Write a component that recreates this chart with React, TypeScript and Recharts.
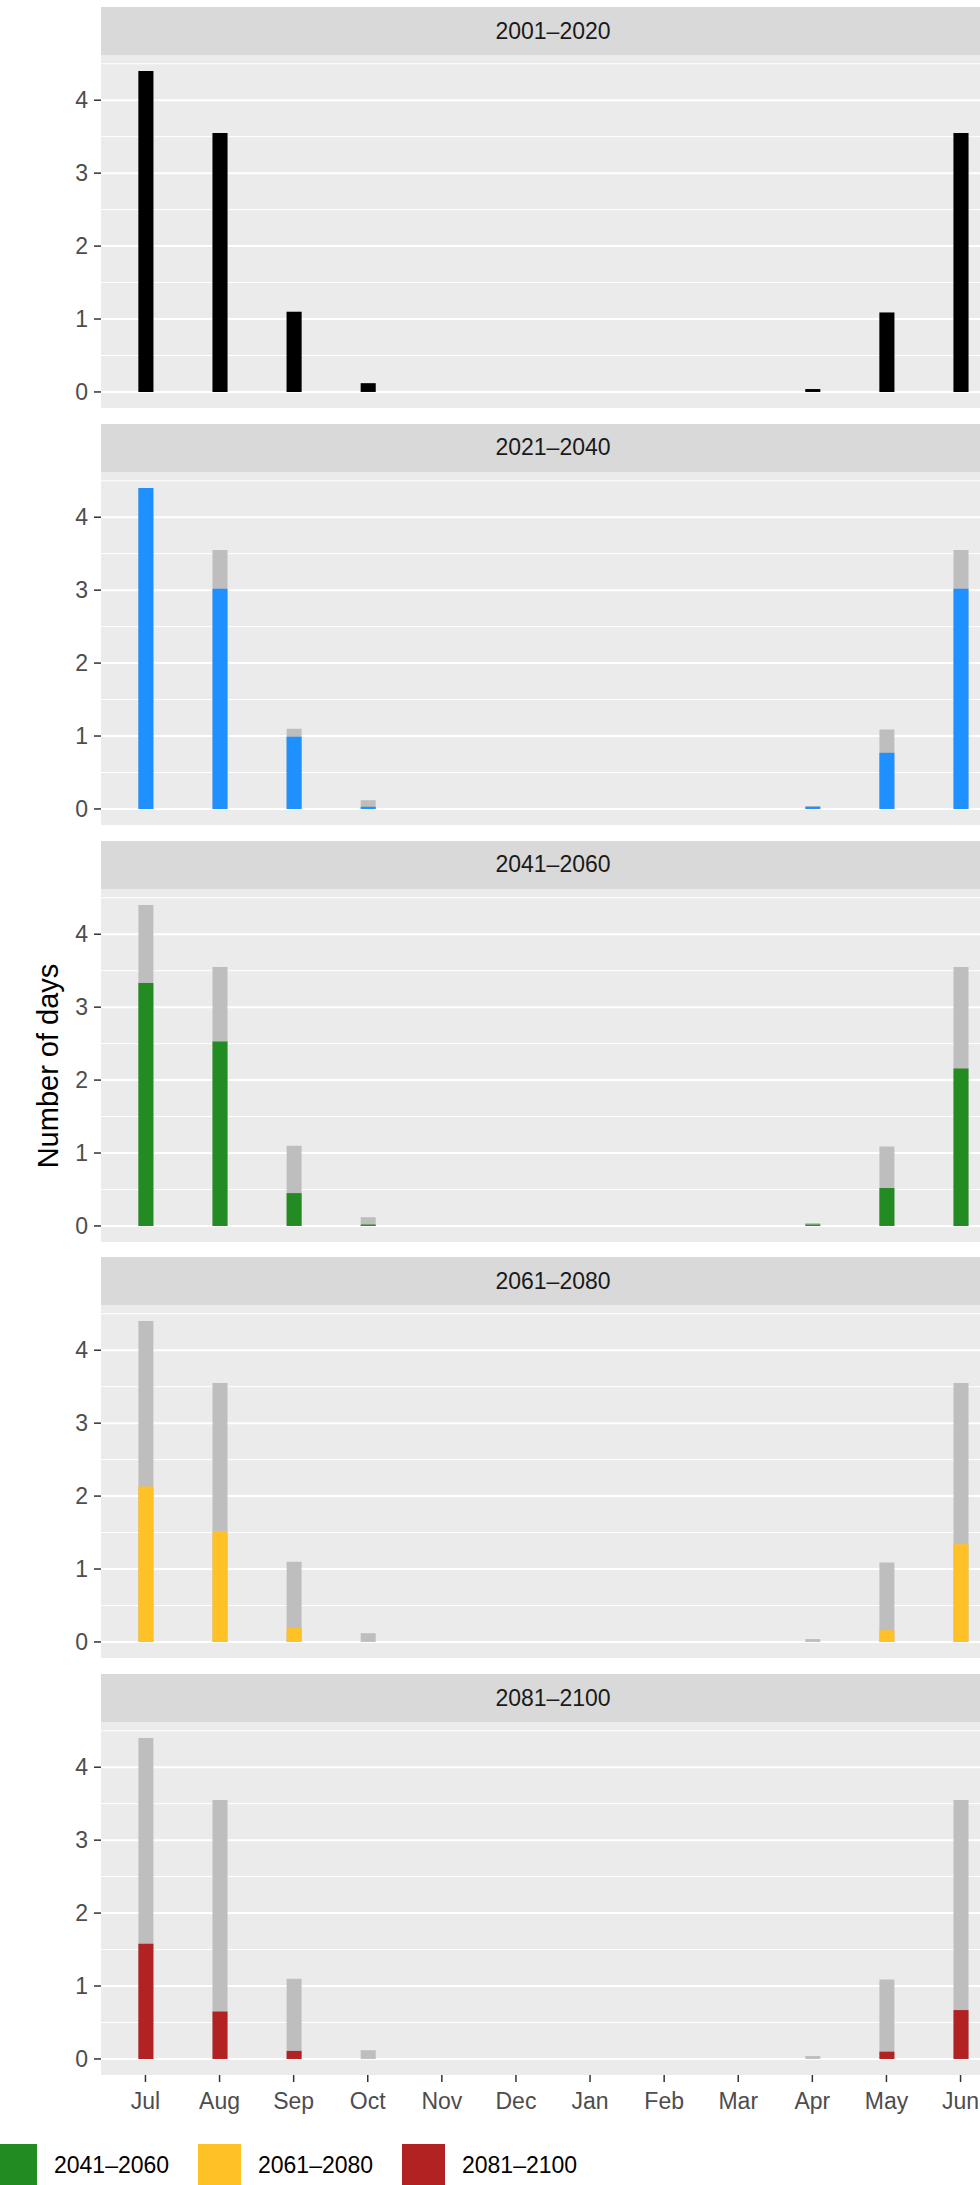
import React from 'react';
import { BarChart, Bar, XAxis, YAxis, CartesianGrid } from 'recharts';

const months = ['Jul', 'Aug', 'Sep', 'Oct', 'Nov', 'Dec', 'Jan', 'Feb', 'Mar', 'Apr', 'May', 'Jun'];
const periods = ['2001–2020', '2021–2040', '2041–2060', '2061–2080', '2081–2100'];
const periodColors = ['#000000', '#1E90FF', '#228B22', '#FFC125', '#B22222'];

// mean number of days per month
const days2001 = [4.4, 3.55, 1.1, 0.12, 0, 0, 0, 0, 0, 0.04, 1.09, 3.55];
const days2021 = [4.4, 3.02, 0.99, 0.03, 0, 0, 0, 0, 0, 0.03, 0.77, 3.02];
const days2041 = [3.33, 2.53, 0.45, 0.02, 0, 0, 0, 0, 0, 0.02, 0.52, 2.16];
const days2061 = [2.13, 1.52, 0.19, 0, 0, 0, 0, 0, 0, 0, 0.16, 1.34];
const days2081 = [1.58, 0.65, 0.11, 0, 0, 0, 0, 0, 0, 0, 0.1, 0.67];
const seriesByPeriod = [days2001, days2021, days2041, days2061, days2081];

const yTicks = [0, 1, 2, 3, 4];
const yMinor = [0.5, 1.5, 2.5, 3.5, 4.5];

const FONT = '"Liberation Sans", Arial, Helvetica, sans-serif';
const PANEL_LEFT = 101;
const PANEL_WIDTH = 904;
const STRIP_H = 48;
const PLOT_H = 353;
const STEP = 416.75;
const FIRST_TOP = 7;
const XAXIS_H = 50;

const Panel = ({ index }: { index: number }) => {
  const top = FIRST_TOP + index * STEP;
  const isLast = index === periods.length - 1;
  const rows = months.map((m, i) => ({
    month: m,
    baseline: days2001[i],
    value: seriesByPeriod[index][i],
  }));
  const pad = { left: 7.4, right: 7.4 };

  return (
    <>
      <div
        style={{
          position: 'absolute',
          left: PANEL_LEFT,
          top,
          width: PANEL_WIDTH,
          height: STRIP_H,
          background: '#D9D9D9',
          display: 'flex',
          alignItems: 'center',
          justifyContent: 'center',
          fontSize: 23,
          color: '#1A1A1A',
        }}
      >
        {periods[index]}
      </div>
      <div style={{ position: 'absolute', left: 0, top: top + STRIP_H }}>
        <BarChart
          width={PANEL_LEFT + PANEL_WIDTH + 5}
          height={isLast ? PLOT_H + XAXIS_H : PLOT_H}
          data={rows}
          margin={{ top: 0, right: 5, bottom: 0, left: 0 }}
        >
          <CartesianGrid
            xAxisId="front"
            vertical={false}
            fill="#EBEBEB"
            fillOpacity={1}
            stroke="#FFFFFF"
            strokeWidth={1}
            horizontalValues={yMinor}
          />
          <CartesianGrid
            xAxisId="front"
            vertical={false}
            stroke="#FFFFFF"
            strokeWidth={2}
            horizontalValues={yTicks}
          />
          {/* second category axis so the period bar sits on top of the 2001–2020 bar */}
          <XAxis xAxisId="back" dataKey="month" orientation="top" height={0} hide padding={pad} />
          <XAxis
            xAxisId="front"
            dataKey="month"
            hide={!isLast}
            height={XAXIS_H}
            padding={pad}
            interval={0}
            axisLine={false}
            tickLine={{ stroke: '#333333', strokeWidth: 1.5 }}
            tickSize={7}
            tickMargin={11}
            tick={{ fill: '#4D4D4D', fontSize: 23, fontFamily: FONT }}
          />
          <YAxis
            type="number"
            width={PANEL_LEFT}
            domain={[-0.22, 4.62]}
            allowDataOverflow
            ticks={yTicks}
            axisLine={false}
            tickLine={{ stroke: '#333333', strokeWidth: 1.5 }}
            tickSize={7}
            tickMargin={6}
            tick={{ fill: '#4D4D4D', fontSize: 23, fontFamily: FONT }}
          />
          <Bar xAxisId="back" dataKey="baseline" fill="#BEBEBE" barSize={15} isAnimationActive={false} />
          <Bar
            xAxisId="front"
            dataKey="value"
            fill={periodColors[index]}
            barSize={15}
            isAnimationActive={false}
          />
        </BarChart>
      </div>
    </>
  );
};

const App: React.FC = () => {
  const legendTop = 2144;
  const legendStart = -414;
  const legendStep = 204;
  // the legend runs off the left edge; only items that reach into view are drawn
  const legendItems = periods
    .map((p, i) => ({ label: p, color: periodColors[i], left: legendStart + i * legendStep }))
    .filter((it) => it.left + 43 > 0);

  return (
    <div
      style={{
        position: 'absolute',
        left: 0,
        top: 0,
        width: 980,
        height: 2185,
        overflow: 'hidden',
        background: '#FFFFFF',
        fontFamily: FONT,
      }}
    >
      {periods.map((p, i) => (
        <Panel key={p} index={i} />
      ))}

      <div
        style={{
          position: 'absolute',
          left: 48,
          top: 1066,
          transform: 'translate(-50%, -50%) rotate(-90deg)',
          whiteSpace: 'nowrap',
          fontSize: 29,
          color: '#000000',
        }}
      >
        Number of days
      </div>

      {legendItems.map((it) => (
        <div
          key={it.label}
          style={{
            position: 'absolute',
            left: it.left,
            top: legendTop,
            height: 43,
            display: 'flex',
            alignItems: 'center',
            whiteSpace: 'nowrap',
          }}
        >
          <div style={{ width: 43, height: 43, background: it.color }} />
          <span style={{ marginLeft: 17, fontSize: 23, color: '#000000' }}>{it.label}</span>
        </div>
      ))}
    </div>
  );
};

export default App;
